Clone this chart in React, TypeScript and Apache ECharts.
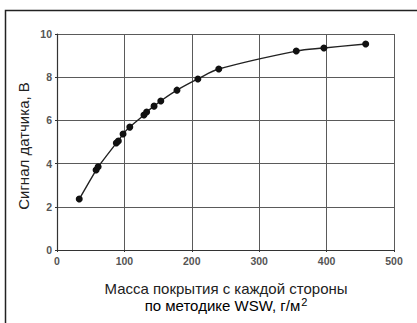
import React, { useEffect, useRef } from "react";
import * as echarts from "echarts";

const massValues = [33, 58, 61, 88, 91, 98, 108, 129, 133, 144, 154, 178, 209, 240, 355, 396, 458];
const signalValues = [2.36, 3.7, 3.85, 4.95, 5.05, 5.37, 5.69, 6.25, 6.39, 6.66, 6.9, 7.4, 7.92, 8.38, 9.21, 9.35, 9.54];
const yTitle = "Сигнал датчика, В";
const xTitleLine1 = "Масса покрытия с каждой стороны";
const xTitleLine2 = "по методике WSW, г/м";

export default function App() {
  const ref = useRef<HTMLDivElement>(null);
  useEffect(() => {
    if (!ref.current) return;
    const chart = echarts.init(ref.current, undefined, { renderer: "svg" });
    const data = massValues.map((x, i) => [x, signalValues[i]]);
    const font = "'Liberation Sans', Arial, sans-serif";
    const tickLabel = { color: "#555", fontWeight: "bold" as const, fontSize: 10.5, fontFamily: font };
    const gridLine = { show: true, showMinLine: true, showMaxLine: true, lineStyle: { color: "#5a5a5a", width: 1 } };
    chart.setOption({
      animation: false,
      backgroundColor: "#fff",
      grid: { left: 57, right: 23, top: 34, bottom: 73, containLabel: false },
      xAxis: {
        type: "value",
        min: 0,
        max: 500,
        interval: 100,
        axisLine: { show: true, lineStyle: { color: "#333", width: 1.2 } },
        axisTick: { show: true, length: 2, lineStyle: { color: "#333" } },
        axisLabel: { ...tickLabel, margin: 5 },
        splitLine: gridLine,
      },
      yAxis: {
        type: "value",
        min: 0,
        max: 10,
        interval: 2,
        axisLine: { show: true, lineStyle: { color: "#333", width: 1.2 } },
        axisTick: { show: true, length: 2, lineStyle: { color: "#333" } },
        axisLabel: { ...tickLabel, margin: 5 },
        splitLine: gridLine,
      },
      graphic: [
        {
          type: "polyline",
          shape: { points: [[5.5, 330], [5.5, 10.5], [420, 10.5]] },
          style: { fill: null, stroke: "#222", lineWidth: 1.5 },
          silent: true,
        },
        {
          type: "text",
          x: 23,
          y: 146,
          rotation: Math.PI / 2,
          style: {
            text: yTitle,
            fill: "#222",
            font: `15px ${font}`,
            textAlign: "center",
            textVerticalAlign: "middle",
          },
        },
        {
          type: "text",
          x: 226,
          y: 288,
          style: {
            text: xTitleLine1,
            fill: "#222",
            font: `15px ${font}`,
            textAlign: "center",
            textVerticalAlign: "middle",
          },
        },
        {
          type: "text",
          x: 226,
          y: 305,
          style: {
            text: `{a|${xTitleLine2}}{s|2}`,
            textAlign: "center",
            textVerticalAlign: "middle",
            rich: {
              a: { color: "#222", fontSize: 15, fontFamily: font },
              s: { color: "#222", fontSize: 11, fontFamily: font, verticalAlign: "top", padding: [0, 0, 7, 1] },
            },
          },
        },
      ],
      series: [
        {
          type: "line",
          data,
          smooth: 0.35,
          symbol: "circle",
          symbolSize: 7,
          itemStyle: { color: "#111" },
          lineStyle: { color: "#222", width: 1.4 },
        },
      ],
    });
    return () => chart.dispose();
  }, []);
  return (
    <div
      ref={ref}
      style={{ position: "absolute", left: 0, top: 0, width: 417, height: 323, background: "#fff" }}
    />
  );
}
